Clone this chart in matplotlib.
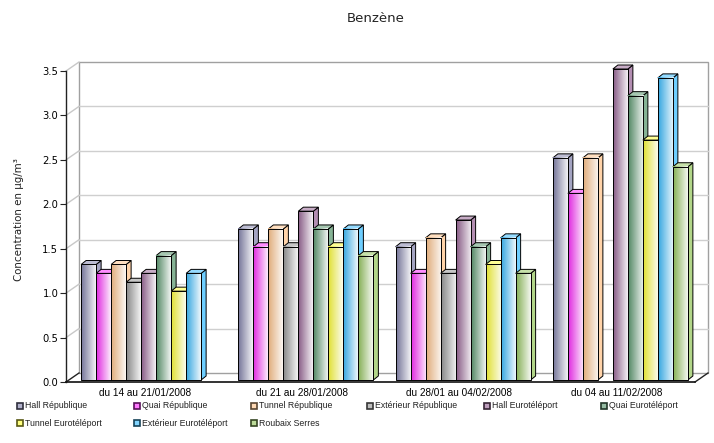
import numpy as np
import matplotlib
matplotlib.use("Agg")
import matplotlib.pyplot as plt
from matplotlib.patches import Rectangle, Polygon
from matplotlib.lines import Line2D
from matplotlib.transforms import Affine2D, IdentityTransform
from matplotlib.colors import to_rgb

# ---- data -------------------------------------------------------------
title = "Benzène"
ylabel = "Concentration en µg/m³"
periods = ["du 14 au 21/01/2008", "du 21 au 28/01/2008",
           "du 28/01 au 04/02/2008", "du 04 au 11/02/2008"]
series = ["Hall République", "Quai République", "Tunnel République",
          "Extérieur République", "Hall Eurotéléport", "Quai Eurotéléport",
          "Tunnel Eurotéléport", "Extérieur Eurotéléport", "Roubaix Serres"]
nan = np.nan
hall_rep = [1.3, 1.7, 1.5, 2.5]
quai_rep = [1.2, 1.5, 1.2, 2.1]
tunnel_rep = [1.3, 1.7, 1.6, 2.5]
ext_rep = [1.1, 1.5, 1.2, nan]
hall_euro = [1.2, 1.9, 1.8, 3.5]
quai_euro = [1.4, 1.7, 1.5, 3.2]
tunnel_euro = [1.0, 1.5, 1.3, 2.7]
ext_euro = [1.2, 1.7, 1.6, 3.4]
roubaix = [nan, 1.4, 1.2, 2.4]
yticks = [0.0, 0.5, 1.0, 1.5, 2.0, 2.5, 3.0, 3.5]

values = [hall_rep, quai_rep, tunnel_rep, ext_rep, hall_euro,
          quai_euro, tunnel_euro, ext_euro, roubaix]
colors = ["#8585AD", "#FF30FF", "#FFC48C", "#9A9A9A", "#9A6898",
          "#5E9A72", "#FFFF3A", "#3EBEFF", "#98C862"]

# ---- figure geometry (pixels, dpi = 100) ------------------------------
W, H = 714, 443
fig = plt.figure(figsize=(W / 100, H / 100), dpi=100)
x_left, x_right = 66, 695
y_bottom, y_top = 382, 71
ax = fig.add_axes([x_left / W, (H - y_bottom) / H,
                   (x_right - x_left) / W, (y_bottom - y_top) / H])
ax.set_xlim(0, len(periods))
ax.set_ylim(0, 3.5)
ax.set_autoscale_on(False)
ax.patch.set_visible(False)

px_x = (x_right - x_left) / len(periods)   # pixels per x unit
px_y = (y_bottom - y_top) / 3.5            # pixels per y unit

wall_dx, wall_dy = 13, 9        # depth of the chart box
bar_dx, bar_dy = 5, 4           # depth of each bar
shift_x, shift_y = 4, 2         # bars stand inside the floor

wall_tr = ax.transData + Affine2D().translate(wall_dx, wall_dy)
bar_tr = ax.transData + Affine2D().translate(shift_x, shift_y)

# ---- walls ------------------------------------------------------------
ax.add_patch(Rectangle((0, 0), len(periods), 3.5, transform=wall_tr,
                       facecolor="white", edgecolor="#A0A0A0", lw=1.0,
                       zorder=0, clip_on=False))
for v in yticks[1:-1]:
    ax.add_line(Line2D([0, len(periods)], [v, v], transform=wall_tr,
                       color="#CFCFCF", lw=1.0, zorder=0.5, clip_on=False))
ddx_wall = wall_dx / px_x
ddy_wall = wall_dy / px_y
for v in yticks:
    col = "#222222" if v == 0 else "#C8C8C8"
    ax.add_line(Line2D([0, ddx_wall], [v, v + ddy_wall], color=col,
                       lw=1.0, zorder=0.6, clip_on=False))
ax.add_line(Line2D([len(periods), len(periods) + ddx_wall], [0, ddy_wall],
                   color="#222222", lw=1.0, zorder=0.6, clip_on=False))

# ---- bars -------------------------------------------------------------
bar_w = 15 / px_x
ddx = bar_dx / px_x
ddy = bar_dy / px_y
n = len(series)


def mix(c, t):
    c = np.array(to_rgb(c))
    return tuple(c * (1 - t) + t)


def darken(c, f):
    return tuple(np.array(to_rgb(c)) * f)


z = 2.0
for g in range(len(periods)):
    start = g + 0.5 - n / 2 * bar_w
    for s in range(n):
        v = values[s][g]
        if np.isnan(v):
            continue
        x0 = start + s * bar_w
        x1 = x0 + bar_w
        base = colors[s]
        # side face
        ax.add_patch(Polygon([(x1, 0), (x1 + ddx, ddy), (x1 + ddx, v + ddy), (x1, v)],
                             closed=True, transform=bar_tr, facecolor=mix(base, 0.25),
                             edgecolor="black", lw=0.7, zorder=z, clip_on=False))
        # top face
        ax.add_patch(Polygon([(x0, v), (x0 + ddx, v + ddy), (x1 + ddx, v + ddy), (x1, v)],
                             closed=True, transform=bar_tr, facecolor=mix(base, 0.45),
                             edgecolor="black", lw=0.7, zorder=z, clip_on=False))
        # front face with a horizontal shading
        t = np.linspace(0, 1, 32)
        c0 = np.array(darken(base, 0.88))
        grad = np.array([c0 * (1 - k * 0.9) + k * 0.9 for k in t])[None, :, :]
        ax.imshow(grad, extent=(x0, x1, 0, v), transform=bar_tr, aspect="auto",
                  interpolation="bilinear", zorder=z + 0.01, clip_on=False)
        ax.add_patch(Rectangle((x0, 0), bar_w, v, transform=bar_tr, facecolor="none",
                               edgecolor="black", lw=0.7, zorder=z + 0.02, clip_on=False))
        z += 0.1

# ---- axes decoration --------------------------------------------------
for side in ["top", "right"]:
    ax.spines[side].set_visible(False)
ax.spines["left"].set_color("#222222")
ax.spines["bottom"].set_color("#111111")
ax.spines["left"].set_linewidth(1.0)
ax.spines["bottom"].set_linewidth(1.2)
ax.spines["left"].set_zorder(1)
ax.spines["bottom"].set_zorder(50)

ax.set_yticks(yticks)
ax.set_yticklabels([f"{v:.1f}" for v in yticks], fontfamily="DejaVu Sans", fontsize=7.2)
ax.tick_params(axis="y", length=4, width=0.8, color="#222222", pad=1.5)
ax.set_xticks([g + 0.5 for g in range(len(periods))])
ax.set_xticklabels(periods, fontfamily="Liberation Sans", fontsize=7.2)
ax.tick_params(axis="x", length=0, pad=4)

fig.text(19 / W, 1 - 220 / H, ylabel, rotation=90, ha="center", va="center",
         fontfamily="DejaVu Sans", fontsize=7.4, color="#222222")
fig.text(376 / W, 1 - 19 / H, title, ha="center", va="center",
         fontfamily="DejaVu Sans", fontsize=9.5, color="#222222")

# ---- legend -----------------------------------------------------------
col_x = [17 + 116.8 * i for i in range(6)]
row_y = [406, 423]
for i, name in enumerate(series):
    cx = col_x[i % 6]
    cy = row_y[i // 6]
    fig.patches.append(Rectangle((cx / W, 1 - (cy + 3) / H), 6 / W, 6 / H,
                                 transform=fig.transFigure, figure=fig,
                                 facecolor=mix(colors[i], 0.35),
                                 edgecolor=darken(colors[i], 0.35), lw=1.2))
    fig.text((cx + 8) / W, 1 - cy / H, name, ha="left", va="center",
             fontfamily="Liberation Sans", fontsize=6.3, color="#222222")

fig.savefig("out.png", dpi=100)
